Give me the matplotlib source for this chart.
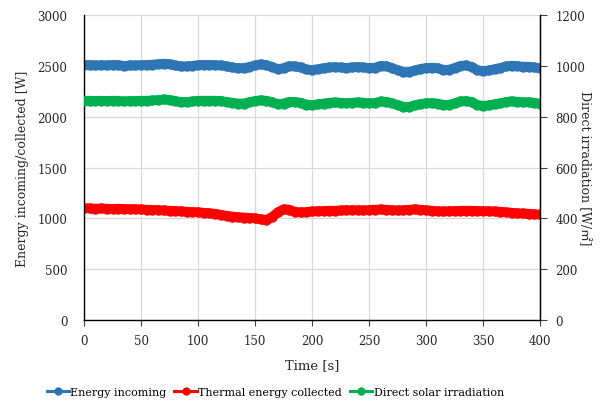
"""
plot.py
-------
Energy incoming / thermal energy collected and direct solar irradiation
over a 400 s test run.
"""

import numpy as np
import matplotlib
matplotlib.use("Agg")
import matplotlib.pyplot as plt
from matplotlib.lines import Line2D

# ── data (every 5 s) ───────────────────────────────────────────────────────
time_s = np.arange(0, 401, 5)

energy_incoming = [
    2510, 2508, 2505, 2508, 2505, 2510, 2508, 2500, 2505, 2505,
    2508, 2510, 2512, 2518, 2522, 2518, 2505, 2495, 2495, 2500,
    2508, 2510, 2510, 2508, 2505, 2495, 2485, 2478, 2478, 2490,
    2505, 2515, 2508, 2490, 2468, 2478, 2498, 2495, 2485, 2465,
    2460, 2468, 2478, 2485, 2488, 2485, 2480, 2485, 2490, 2485,
    2480, 2482, 2500, 2498, 2480, 2458, 2440, 2440, 2455, 2470,
    2480, 2482, 2478, 2462, 2462, 2480, 2500, 2505, 2490, 2458,
    2450, 2455, 2468, 2480, 2495, 2502, 2498, 2492, 2492, 2485,
    2475,
]

thermal_collected = [
    1100, 1098, 1095, 1097, 1095, 1093, 1095, 1092, 1090, 1090,
    1088, 1085, 1083, 1080, 1078, 1075, 1072, 1070, 1065, 1062,
    1060, 1055, 1050, 1045, 1035, 1025, 1018, 1012, 1008, 1005,
    1000, 990, 985, 1015, 1060, 1090, 1085, 1065, 1058, 1062,
    1068, 1070, 1072, 1075, 1075, 1078, 1080, 1080, 1080, 1078,
    1082, 1085, 1088, 1085, 1080, 1078, 1080, 1085, 1090, 1085,
    1080, 1075, 1070, 1068, 1070, 1072, 1075, 1075, 1075, 1072,
    1072, 1070, 1068, 1065, 1060, 1055, 1050, 1048, 1045, 1040,
    1038,
]

direct_irradiation = [
    863, 863, 862, 863, 862, 863, 863, 860, 862, 862,
    863, 863, 864, 866, 868, 866, 862, 858, 858, 860,
    863, 863, 863, 863, 862, 858, 855, 852, 852, 857,
    862, 865, 863, 857, 849, 852, 859, 858, 855, 848,
    846, 849, 852, 855, 856, 855, 853, 855, 857, 855,
    853, 854, 860, 859, 853, 846, 839, 839, 845, 850,
    853, 854, 852, 847, 847, 853, 860, 862, 857, 846,
    843, 845, 849, 853, 858, 861, 859, 857, 857, 855,
    851,
]

labels = ["Energy incoming", "Thermal energy collected", "Direct solar irradiation"]
colors = ["#2e75b6", "#ff0000", "#00b050"]

serif = ["DejaVu Serif", "Noto Sans CJK JP"]
plt.rcParams["font.family"] = serif
plt.rcParams["font.size"] = 8.5


def main():
    fig = plt.figure(figsize=(6.09, 4.02), dpi=100)
    ax = fig.add_axes([0.138, 0.2015, 0.749, 0.7585])
    ax2 = ax.twinx()

    # dense markers + thick line -> the solid band look of the original
    style = dict(marker="o", markersize=7.5, linewidth=7, markeredgewidth=0,
                 solid_capstyle="round")
    ax.plot(time_s, energy_incoming, color=colors[0], **style)
    ax.plot(time_s, thermal_collected, color=colors[1], **style)
    ax2.plot(time_s, direct_irradiation, color=colors[2], **style)

    ax.set_xlim(0, 400)
    ax.set_ylim(0, 3000)
    ax2.set_ylim(0, 1200)
    ax.set_xticks(np.arange(0, 401, 50))
    ax.set_yticks(np.arange(0, 3001, 500))
    ax2.set_yticks(np.arange(0, 1201, 200))

    ax.grid(True, color="#d9d9d9", linewidth=0.9)
    ax.set_axisbelow(True)

    for a in (ax, ax2):
        a.spines["top"].set_visible(False)
    ax.spines["left"].set_linewidth(1.0)
    ax.spines["bottom"].set_linewidth(1.0)
    ax2.spines["right"].set_linewidth(1.0)
    ax2.spines["left"].set_visible(False)
    ax2.spines["bottom"].set_visible(False)

    ax.tick_params(axis="y", length=0, pad=12, colors="#404040")
    ax.tick_params(axis="x", length=4, direction="out", pad=6, colors="#404040")
    ax2.tick_params(axis="y", length=5, direction="out", pad=6, colors="#404040")
    for a in (ax, ax2):
        a.tick_params(labelcolor="#262626")

    ax.set_xlabel("Time [s]", labelpad=8, color="#262626", fontsize=9.5)
    ax.set_ylabel("Energy incoming/collected [W]", labelpad=6, color="#262626",
                  fontsize=9)
    ax2.set_ylabel("Direct irradiation [W/㎡]", rotation=270, labelpad=4,
                   color="#262626", fontsize=9)

    handles = [Line2D([], [], color=c, marker="o", markersize=6, linewidth=2.2,
                      markeredgewidth=0) for c in colors]
    fig.legend(handles, labels, loc="lower center",
               bbox_to_anchor=(0.452, -0.014), ncol=3, frameon=False,
               handlelength=2.0, handletextpad=0.15, columnspacing=0.7,
               fontsize=8)

    plt.savefig("out.png", dpi=100)
    plt.close()


if __name__ == "__main__":
    main()
